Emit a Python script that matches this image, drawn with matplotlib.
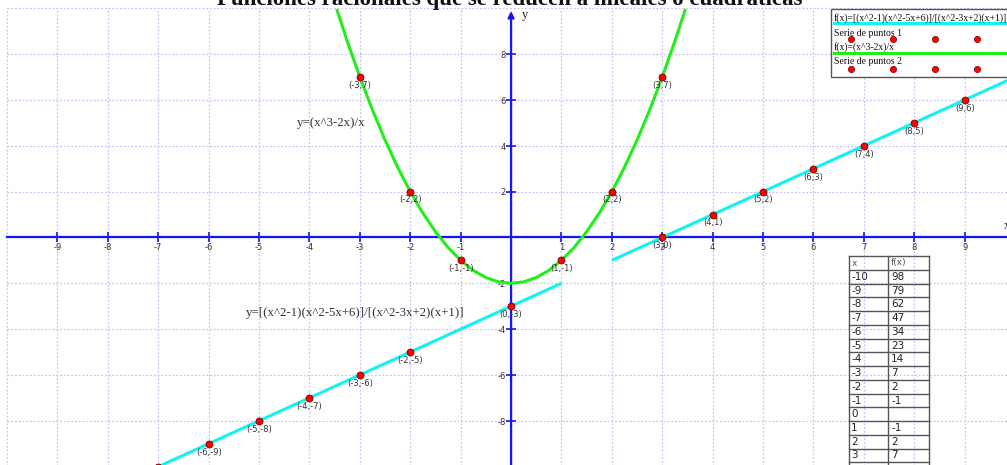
import matplotlib
matplotlib.use("Agg")
import matplotlib.pyplot as plt
from matplotlib.patches import Rectangle
from matplotlib.lines import Line2D

# ---- data ----
title = "Funciones racionales que se reducen a lineales o cuadráticas"

# f(x)=(x^3-2x)/x  (green curve)
green_x = [-3.46, -3.25, -3.0, -2.75, -2.5, -2.25, -2.0, -1.75, -1.5, -1.25, -1.0,
           -0.75, -0.5, -0.25, 0.0, 0.25, 0.5, 0.75, 1.0, 1.25, 1.5, 1.75, 2.0,
           2.25, 2.5, 2.75, 3.0, 3.25, 3.46]
green_y = [9.97, 8.56, 7.0, 5.56, 4.25, 3.06, 2.0, 1.06, 0.25, -0.44, -1.0,
           -1.44, -1.75, -1.94, -2.0, -1.94, -1.75, -1.44, -1.0, -0.44, 0.25, 1.06, 2.0,
           3.06, 4.25, 5.56, 7.0, 8.56, 9.97]

# f(x)=[(x^2-1)(x^2-5x+6)]/[(x^2-3x+2)(x+1)]  (cyan, two pieces)
cyan1_x = [-7.5, 1.0]
cyan1_y = [-10.5, -2.0]
cyan2_x = [2.0, 10.5]
cyan2_y = [-1.0, 7.5]

# Serie de puntos 1
s1_x = [-7, -6, -5, -4, -3, -2, 0, 3, 4, 5, 6, 7, 8, 9, 10]
s1_y = [-10, -9, -8, -7, -6, -5, -3, 0, 1, 2, 3, 4, 5, 6, 7]
# Serie de puntos 2
s2_x = [-3, -2, -1, 1, 2, 3]
s2_y = [7, 2, -1, -1, 2, 7]

# table
tab_x = ["-10", "-9", "-8", "-7", "-6", "-5", "-4", "-3", "-2", "-1", "0", "1", "2", "3", ""]
tab_f = ["98", "79", "62", "47", "34", "23", "14", "7", "2", "-1", "", "-1", "2", "7", ""]

legend_labels = ["f(x)=[(x^2-1)(x^2-5x+6)]/[(x^2-3x+2)(x+1)]", "Serie de puntos 1",
                 "f(x)=(x^3-2x)/x", "Serie de puntos 2"]

x_ticks = [-9, -8, -7, -6, -5, -4, -3, -2, -1, 1, 2, 3, 4, 5, 6, 7, 8, 9]
y_ticks = [-8, -6, -4, -2, 2, 4, 6, 8]

# ---- style ----
W, H = 1007, 465
BLUE = "#1414ff"
GREEN = "#22ee1a"
CYAN = "#10f4f4"
GRID = "#c4c4f4"
TXT = "#333333"

fig = plt.figure(figsize=(W / 100, H / 100), dpi=100)
ax = fig.add_axes([0, 0, 1, 1])
ax.set_xlim(-10.14, 9.84)
ax.set_ylim(-9.93, 10.36)
ax.axis("off")


def px(x, y):
    return x / W, 1 - y / H


# grid
for gx in range(-10, 11):
    ax.plot([gx, gx], [-10.5, 10], color=GRID, lw=0.9, ls=(0, (1.5, 1.5)), zorder=1)
for gy in range(-10, 11, 2):
    ax.plot([-10, 10.5], [gy, gy], color=GRID, lw=0.9, ls=(0, (1.5, 1.5)), zorder=1)

# axes
ax.plot([-10, 10.5], [0, 0], color=BLUE, lw=1.6, zorder=3)
ax.annotate("", xy=(0, 10.0), xytext=(0, -10.5),
            arrowprops=dict(arrowstyle="-|>", color=BLUE, lw=1.6, mutation_scale=9), zorder=3)
ax.plot(x_ticks, [0] * len(x_ticks), ls="none", marker="|", ms=7, mew=1.2, color=BLUE, zorder=3)
ax.plot([0] * len(y_ticks), y_ticks, ls="none", marker="_", ms=7, mew=1.2, color=BLUE, zorder=3)
for t in x_ticks:
    ax.annotate(str(t), (t, 0), xytext=(0, -7), textcoords="offset points",
                ha="center", va="center", fontsize=6, color=TXT, zorder=4)
for t in y_ticks:
    ax.annotate(str(t), (0, t), xytext=(-4, -1), textcoords="offset points",
                ha="right", va="center", fontsize=6, color=TXT, zorder=4)
ax.annotate("y", (0, 10.0), xytext=(10, -5), textcoords="offset points",
            ha="center", va="center", fontsize=9, family="Liberation Serif", color="#222222")
ax.annotate("x", (9.84, 0), xytext=(-2, 8), textcoords="offset points",
            ha="left", va="center", fontsize=9, family="Liberation Serif", color="#222222")

# curves
ax.plot(green_x, green_y, color=GREEN, lw=2.2, zorder=5, solid_capstyle="butt")
ax.plot(cyan1_x, cyan1_y, color=CYAN, lw=2.2, zorder=5, solid_capstyle="butt")
ax.plot(cyan2_x, cyan2_y, color=CYAN, lw=2.2, zorder=5, solid_capstyle="butt")

# points + labels
for xs, ys in ((s1_x, s1_y), (s2_x, s2_y)):
    ax.plot(xs, ys, ls="none", marker="o", ms=5, mfc="#ff0000", mec="#7a0000", mew=0.6, zorder=6)
    for a, b in zip(xs, ys):
        ax.annotate(f"({a},{b})", (a, b), xytext=(0, -6), textcoords="offset points",
                    ha="center", va="center", fontsize=6, color=TXT, zorder=7)

# equation notes
ax.text(-4.25, 5.0, "y=(x^3-2x)/x", fontsize=9.3, family="Liberation Serif", color=TXT,
        va="center", ha="left")
ax.text(-5.26, -3.3, "y=[(x^2-1)(x^2-5x+6)]/[(x^2-3x+2)(x+1)]", fontsize=9.3,
        family="Liberation Serif", color=TXT, va="center", ha="left")

# title (cut at top like the original)
fig.text(*px(510, 5), title, ha="center", va="baseline", fontsize=16.5, weight="bold",
         family="Liberation Serif", color="#111111")

# legend box
fig.add_artist(Rectangle(px(831, 77), 200 / W, 68 / H, transform=fig.transFigure,
                         facecolor="white", edgecolor="#555555", lw=1, zorder=10))
leg_y = [18, 33, 47, 62]
for lab, yy in zip(legend_labels, leg_y):
    fig.text(*px(834, yy), lab, ha="left", va="center", fontsize=7,
             family="Liberation Serif", color="#111111", zorder=11)
fig.add_artist(Line2D([834 / W, 1], [1 - 23.5 / H] * 2, transform=fig.transFigure,
                      color=CYAN, lw=2.2, zorder=11))
fig.add_artist(Line2D([834 / W, 1], [1 - 53.5 / H] * 2, transform=fig.transFigure,
                      color=GREEN, lw=2.2, zorder=11))
for yy in (39, 69.5):
    for xx in (851, 893, 935, 977):
        fig.add_artist(Line2D([xx / W], [1 - yy / H], transform=fig.transFigure, ls="none",
                              marker="o", ms=4.5, mfc="#ff0000", mec="#7a0000", mew=0.5, zorder=12))

# table
col_edges = [849, 888, 929]
row_top = 256
head_h = 14
row_h = 13.74
row_edges = [row_top, row_top + head_h] + [row_top + head_h + row_h * (i + 1) for i in range(len(tab_x))]
for yy in row_edges:
    fig.add_artist(Line2D([col_edges[0] / W, col_edges[-1] / W], [1 - yy / H] * 2,
                          transform=fig.transFigure, color="#555555", lw=1, zorder=10))
for xx in col_edges:
    fig.add_artist(Line2D([xx / W] * 2, [1 - row_top / H, 0], transform=fig.transFigure,
                          color="#555555", lw=1, zorder=10))
fig.text(*px(852, row_top + head_h / 2), "x", ha="left", va="center", fontsize=6.5,
         family="DejaVu Sans", color="#555555", zorder=11)
fig.text(*px(891, row_top + head_h / 2), "f(x)", ha="left", va="center", fontsize=6.5,
         family="DejaVu Sans", color="#555555", zorder=11)
for i, (a, b) in enumerate(zip(tab_x, tab_f)):
    yc = row_top + head_h + row_h * i + row_h / 2
    fig.text(*px(851, yc), a, ha="left", va="center", fontsize=7.5, family="DejaVu Sans",
             color="#222222", zorder=11)
    fig.text(*px(891, yc), b, ha="left", va="center", fontsize=7.5, family="DejaVu Sans",
             color="#222222", zorder=11)

fig.savefig("out.png", dpi=100)
